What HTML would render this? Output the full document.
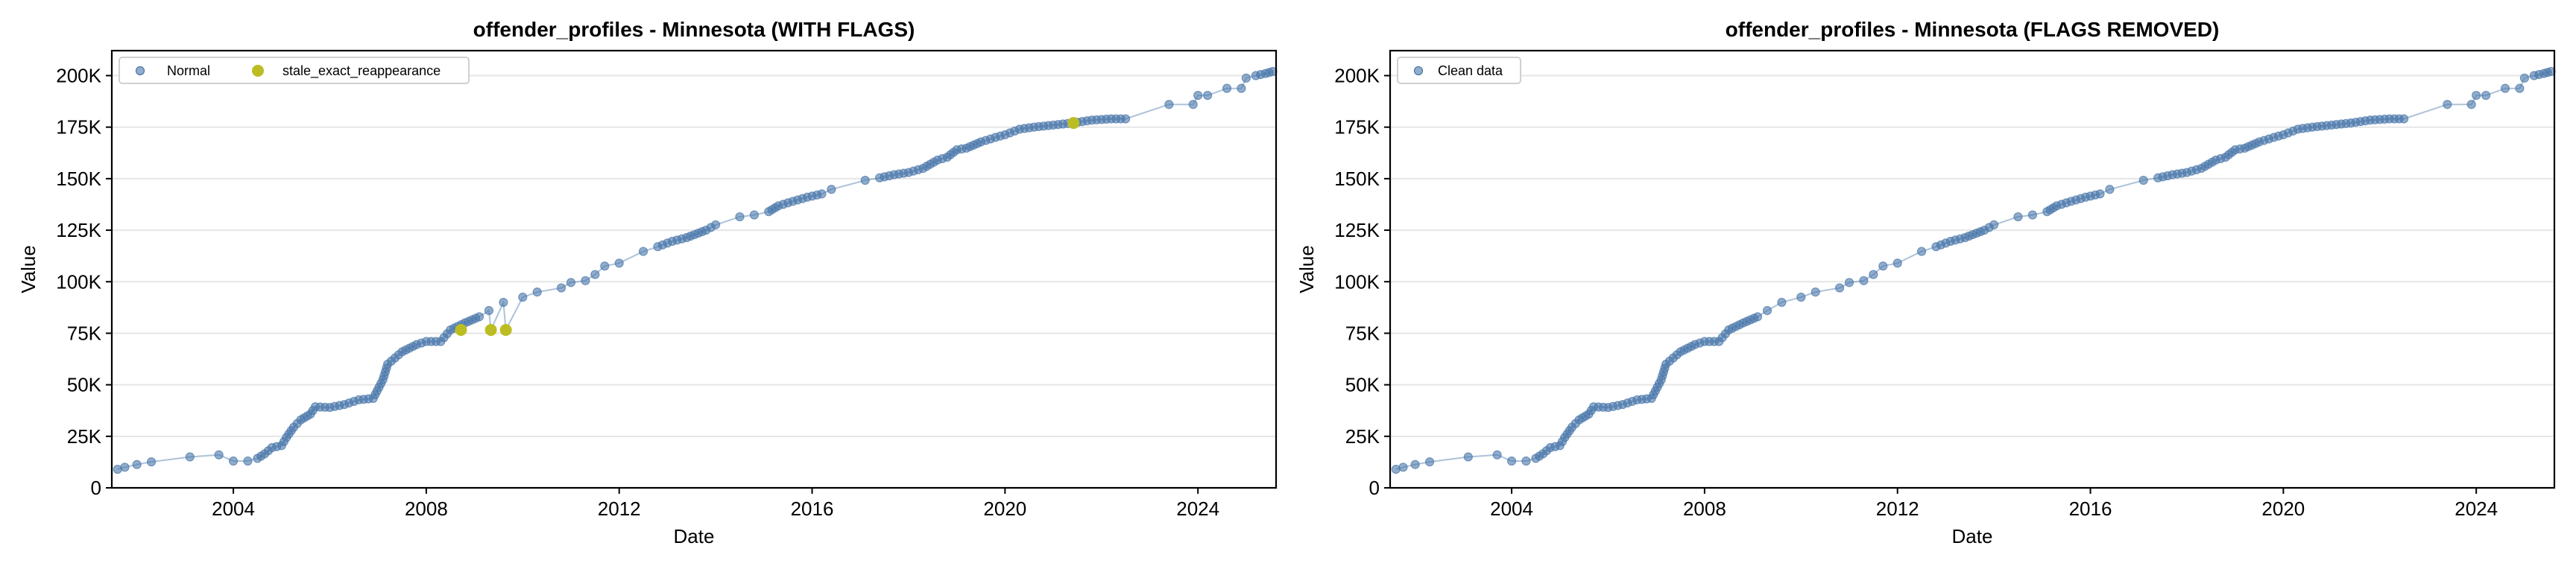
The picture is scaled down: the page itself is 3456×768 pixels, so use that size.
<!DOCTYPE html>
<html><head><meta charset="utf-8">
<style>
html,body{margin:0;padding:0;background:#fff;}
svg{display:block;font-family:"Liberation Sans","DejaVu Sans",sans-serif;}
</style></head>
<body>
<svg id="s" width="3456" height="768" xmlns="http://www.w3.org/2000/svg">
<rect width="3456" height="768" fill="#fff"/>
<g id="p0"></g><g id="p1"></g>
</svg>
<script>
const key=[[2001.6,9],[2001.75,10],[2002.0,11.3],[2002.3,12.6],[2003.1,15],[2003.7,16],[2004.0,13],[2004.3,13],[2004.5,14.3],[2004.65,16.5],[2004.8,19.5],[2005.0,20.5],[2005.1,24.4],[2005.25,29.4],[2005.4,33],[2005.6,35.8],[2005.7,39.3],[2006.0,39],[2006.3,40.4],[2006.6,42.7],[2006.9,43.4],[2007.1,52.4],[2007.2,60],[2007.5,66],[2007.8,69.5],[2008.0,71],[2008.3,71],[2008.5,76.6],[2008.8,80],[2009.1,83],[2009.3,86],[2009.6,90],[2010.0,92.5],[2010.3,95],[2010.8,97],[2011.0,99.6],[2011.3,100.5],[2011.5,103.5],[2011.7,107.6],[2012.0,109],[2012.5,114.7],[2012.8,117],[2013.1,119.6],[2013.4,121.4],[2013.8,125],[2014.0,127.6],[2014.5,131.5],[2014.8,132.4],[2015.1,134],[2015.3,136.8],[2015.6,139],[2015.9,141],[2016.2,142.6],[2016.4,144.8],[2017.1,149.2],[2017.4,150.4],[2017.7,151.9],[2018.0,153],[2018.3,155],[2018.6,159],[2018.8,160.4],[2019.0,164],[2019.2,164.8],[2019.5,167.8],[2019.8,170],[2020.0,171.3],[2020.3,174],[2020.6,175],[2021.0,176],[2021.4,177],[2021.8,178.4],[2022.2,179],[2022.5,179],[2023.4,186],[2023.9,186],[2024.0,190.4],[2024.2,190.4],[2024.6,193.8],[2024.9,193.8],[2025.0,198.8],[2025.2,200],[2025.4,201],[2025.55,202]];
const sparse=new Set([0,1,2,3,4,5,6,7,29,30,31,32,33,34,35,36,37,38,39,40,45,46,47,52,53,54,72,73,74,75,76,77,78,79]);
const flags=[[2008.72,76.6],[2009.34,76.6],[2009.65,76.6],[2021.42,177]];
const NS="http://www.w3.org/2000/svg";
function el(p,t,a,txt){const e=document.createElementNS(NS,t);for(const k in a)e.setAttribute(k,a[k]);if(txt!==undefined)e.textContent=txt;p.appendChild(e);return e;}
function panel(g,ox,title,withFlags){
 const L=ox+150,R=ox+1712,T=68,B=655;
 const X=y=>L+(y-2001.48)*(R-L)/(2025.62-2001.48);
 const Y=v=>B-v*(B-101.5)/200;
 for(let v=0;v<=200;v+=25){ if(v>0) el(g,'line',{x1:L,x2:R,y1:Y(v),y2:Y(v),stroke:'#e6e6e6','stroke-width':2});
  el(g,'line',{x1:L-8,x2:L,y1:Y(v),y2:Y(v),stroke:'#000','stroke-width':2});
  el(g,'text',{x:L-14,y:Y(v)+9,'text-anchor':'end','font-size':26},v==0?'0':v+'K');}
 for(let yr=2004;yr<=2024;yr+=4){el(g,'line',{x1:X(yr),x2:X(yr),y1:B,y2:B+8,stroke:'#000','stroke-width':2});
  el(g,'text',{x:X(yr),y:B+37,'text-anchor':'middle','font-size':26},yr);}
 let pts=[];
 for(let i=0;i<key.length-1;i++){const a=key[i],b=key[i+1];
  const dx=X(b[0])-X(a[0]),dy=Y(b[1])-Y(a[1]);const d=Math.hypot(dx,dy);
  let n=sparse.has(i)?1:Math.max(1,Math.round(d/6));
  for(let k=0;k<n;k++){const t=k/n;pts.push([a[0]+(b[0]-a[0])*t,a[1]+(b[1]-a[1])*t]);}}
 pts.push(key[key.length-1]);
 let line=pts.slice();
 if(withFlags){line=line.concat(flags);line.sort((p,q)=>p[0]-q[0]);}
 el(g,'polyline',{points:line.map(p=>X(p[0]).toFixed(1)+','+Y(p[1]).toFixed(1)).join(' '),fill:'none',stroke:'#4a77aa','stroke-opacity':0.45,'stroke-width':2});
 for(const p of pts) el(g,'circle',{cx:X(p[0]),cy:Y(p[1]),r:5.5,fill:'#4a77aa','fill-opacity':0.6,stroke:'#4a77aa','stroke-opacity':0.7,'stroke-width':1.2});
 if(withFlags) for(const p of flags) el(g,'circle',{cx:X(p[0]),cy:Y(p[1]),r:8,fill:'#bcbd22'});
 el(g,'rect',{x:L,y:T,width:R-L,height:B-T,fill:'none',stroke:'#000','stroke-width':2.2});
 el(g,'text',{x:(L+R)/2,y:49,'text-anchor':'middle','font-size':28,'font-weight':'bold'},title);
 el(g,'text',{x:(L+R)/2,y:729,'text-anchor':'middle','font-size':26},'Date');
 el(g,'text',{x:0,y:0,'text-anchor':'middle','font-size':26,transform:`translate(${ox+47},${(T+B)/2}) rotate(-90)`},'Value');
 if(withFlags){
  el(g,'rect',{x:L+10,y:77,width:469,height:35,rx:4,fill:'#fff',stroke:'#d0d0d0','stroke-width':2});
  el(g,'circle',{cx:L+38,cy:95,r:5.5,fill:'#4a77aa','fill-opacity':0.6,stroke:'#4a77aa','stroke-width':1.2});
  el(g,'text',{x:L+74,y:101,'font-size':18},'Normal');
  el(g,'circle',{cx:L+196,cy:95,r:8,fill:'#bcbd22'});
  el(g,'text',{x:L+229,y:101,'font-size':18},'stale_exact_reappearance');
 } else {
  el(g,'rect',{x:L+10,y:77,width:165,height:35,rx:4,fill:'#fff',stroke:'#d0d0d0','stroke-width':2});
  el(g,'circle',{cx:L+38,cy:95,r:5.5,fill:'#4a77aa','fill-opacity':0.6,stroke:'#4a77aa','stroke-width':1.2});
  el(g,'text',{x:L+64,y:101,'font-size':18},'Clean data');
 }
}
panel(document.getElementById('p0'),0,'offender_profiles - Minnesota (WITH FLAGS)',true);
panel(document.getElementById('p1'),1715,'offender_profiles - Minnesota (FLAGS REMOVED)',false);
</script>
</body></html>
